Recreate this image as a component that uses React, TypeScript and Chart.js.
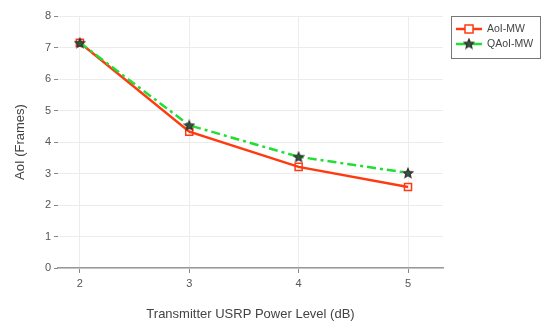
import React, { useEffect, useRef } from "react";
import { Chart, registerables } from "chart.js";

Chart.register(...registerables);

const xValues = [2, 3, 4, 5];
const aoiMW = [7.15, 4.33, 3.21, 2.57];
const qaoiMW = [7.15, 4.53, 3.53, 3.02];
const yTicks = [0, 1, 2, 3, 4, 5, 6, 7, 8];
const seriesNames = ["AoI-MW", "QAoI-MW"];

const RED = "#ff3a10";
const GREEN = "#22dd33";
const FONT = "'Liberation Sans', Arial, sans-serif";

function makeStar(size: number) {
  const c = document.createElement("canvas");
  c.width = size;
  c.height = size;
  const ctx = c.getContext("2d")!;
  const cx = size / 2, cy = size / 2 + 0.5;
  const R = size / 2 - 1, r = R * 0.45;
  ctx.beginPath();
  for (let i = 0; i < 10; i++) {
    const rad = i % 2 === 0 ? R : r;
    const a = -Math.PI / 2 + (i * Math.PI) / 5;
    const x = cx + rad * Math.cos(a), y = cy + rad * Math.sin(a);
    if (i === 0) ctx.moveTo(x, y); else ctx.lineTo(x, y);
  }
  ctx.closePath();
  ctx.fillStyle = "#2f5a3a";
  ctx.fill();
  ctx.lineWidth = 1.2;
  ctx.strokeStyle = "#333";
  ctx.stroke();
  return c;
}

export default function App() {
  const ref = useRef<HTMLCanvasElement>(null);
  useEffect(() => {
    document.body.style.margin = "0";
    const star = makeStar(12);
    const legendPlugin = {
      id: "boxLegend",
      afterDraw(chart: any) {
        const ctx = chart.ctx;
        ctx.save();
        const x0 = 451, y0 = 16, w = 89, h = 42;
        ctx.strokeStyle = "#777";
        ctx.lineWidth = 1;
        ctx.strokeRect(x0 + 0.5, y0 + 0.5, w, h);
        // entry 1
        let y = 29;
        ctx.strokeStyle = RED;
        ctx.lineWidth = 2.5;
        ctx.beginPath();
        ctx.moveTo(456, y);
        ctx.lineTo(482, y);
        ctx.stroke();
        ctx.lineWidth = 1.5;
        ctx.fillStyle = "#fff";
        ctx.fillRect(465, y - 4, 8, 8);
        ctx.strokeRect(465, y - 4, 8, 8);
        ctx.fillStyle = "#444";
        ctx.font = `10.5px ${FONT}`;
        ctx.textBaseline = "middle";
        ctx.fillText(seriesNames[0], 487, y);
        // entry 2
        y = 44;
        ctx.strokeStyle = GREEN;
        ctx.lineWidth = 2.5;
        ctx.beginPath();
        ctx.moveTo(456, y);
        ctx.lineTo(482, y);
        ctx.stroke();
        ctx.drawImage(star, 469 - 6, y - 6.5);
        ctx.fillStyle = "#444";
        ctx.fillText(seriesNames[1], 487, y);
        ctx.restore();
      },
    };
    const chart = new Chart(ref.current!, {
      type: "line",
      data: {
        datasets: [
          {
            label: seriesNames[0],
            data: xValues.map((x, i) => ({ x, y: aoiMW[i] })),
            borderColor: RED,
            backgroundColor: "rgba(255,255,255,0)",
            borderWidth: 2.5,
            pointStyle: "rect",
            pointRadius: 5,
            pointBorderWidth: 1.5,
            pointBorderColor: RED,
            pointBackgroundColor: "rgba(255,255,255,0)",
            order: 1,
          },
          {
            label: seriesNames[1],
            data: xValues.map((x, i) => ({ x, y: qaoiMW[i] })),
            borderColor: GREEN,
            backgroundColor: GREEN,
            borderWidth: 2.5,
            borderDash: [9, 4, 3, 4],
            pointStyle: star as any,
            order: 0,
          },
        ],
      },
      options: {
        animation: false,
        responsive: false,
        layout: { padding: { left: 0, right: 107, top: 16, bottom: 0 } },
        plugins: { legend: { display: false }, tooltip: { enabled: false } },
        scales: {
          x: {
            type: "linear",
            min: 1.8,
            max: 5.32,
            afterBuildTicks: (s: any) => {
              s.ticks = xValues.map((v) => ({ value: v }));
            },
            afterFit: (s: any) => {
              s.height = 59;
            },
            grid: { color: "#ececec", tickColor: "#888", tickLength: 5, lineWidth: 1 },
            border: { color: "#999", width: 1.5 },
            ticks: { color: "#555", font: { family: FONT, size: 11 }, padding: 4 },
            title: {
              display: true,
              text: "Transmitter USRP Power Level (dB)",
              color: "#444",
              font: { family: FONT, size: 13 },
              padding: { top: 12, bottom: 5 },
            },
          },
          y: {
            min: 0,
            max: 8,
            afterBuildTicks: (s: any) => {
              s.ticks = yTicks.map((v) => ({ value: v }));
            },
            afterFit: (s: any) => {
              s.width = 58;
            },
            grid: { color: "#ececec", tickColor: "#888", tickLength: 4, lineWidth: 1 },
            border: { display: false },
            ticks: { color: "#555", font: { family: FONT, size: 11 }, padding: 3 },
            title: {
              display: true,
              text: "AoI (Frames)",
              color: "#444",
              font: { family: FONT, size: 13 },
              padding: { top: 13, bottom: 8 },
            },
          },
        },
      },
      plugins: [legendPlugin],
    } as any);
    return () => chart.destroy();
  }, []);
  return <canvas ref={ref} width={550} height={327} />;
}
